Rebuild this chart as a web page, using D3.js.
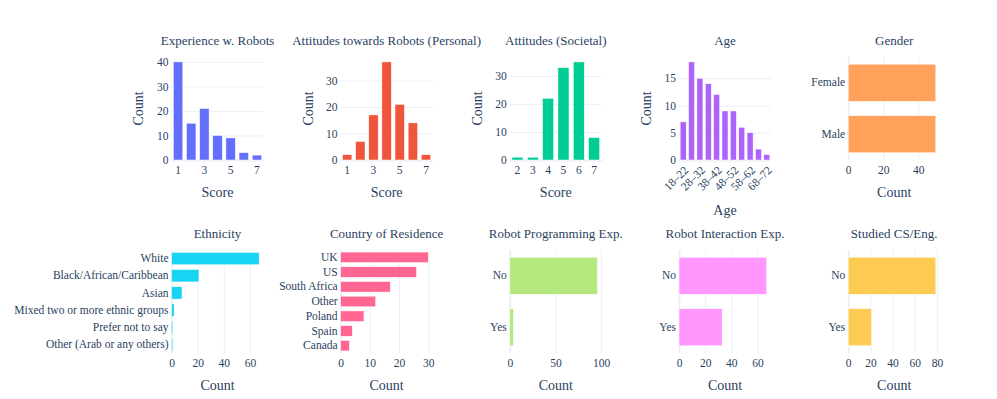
<!DOCTYPE html>
<html>
<head>
<meta charset="utf-8">
<script src="https://cdn.jsdelivr.net/npm/d3@7"></script>
<style>
  body { margin: 0; background: #fff; }
  text { font-family: 'Liberation Serif', 'Times New Roman', serif; fill: #2a3f5f; }
</style>
</head>
<body>
<svg id="chart" width="997" height="399"></svg>
<script>
// Survey data (100 respondents).
const scores = [1, 2, 3, 4, 5, 6, 7];
const experienceCounts = [40, 15, 21, 10, 9, 3, 2];
const personalCounts = [2, 7, 17, 37, 21, 14, 2];
const societalScores = [2, 3, 4, 5, 6, 7];
const societalCounts = [1, 1, 22, 33, 35, 8];
const ageGroups = ['18–22', '23–27', '28–32', '33–37', '38–42', '43–47', '48–52', '53–57', '58–62', '63–67', '68–72'];
const ageCounts = [7, 18, 15, 14, 12, 9, 9, 6, 5, 2, 1];
const genders = ['Female', 'Male'];
const genderCounts = [50, 50];
const ethnicities = ['White', 'Black/African/Caribbean', 'Asian', 'Mixed two or more ethnic groups', 'Prefer not to say', 'Other (Arab or any others)'];
const ethnicityCounts = [67, 21, 8, 2, 1, 1];
const countries = ['UK', 'US', 'South Africa', 'Other', 'Poland', 'Spain', 'Canada'];
const countryCounts = [30, 26, 17, 12, 8, 4, 3];
const noYes = ['No', 'Yes'];
const programmingCounts = [96, 4];
const interactionCounts = [67, 33];
const studiedCounts = [79, 21];

// Plotly default colour cycle.
const colors = ['#636efa', '#EF553B', '#00cc96', '#ab63fa', '#FFA15A', '#19d3f3', '#FF6692', '#B6E880', '#FF97FF', '#FECB52'];

const panels = [
  {title: 'Experience w. Robots', cats: scores, values: experienceCounts, step: 10, catTicks: [1, 3, 5, 7], xTitle: 'Score', yTitle: 'Count'},
  {title: 'Attitudes towards Robots (Personal)', cats: scores, values: personalCounts, step: 10, catTicks: [1, 3, 5, 7], xTitle: 'Score', yTitle: 'Count'},
  {title: 'Attitudes (Societal)', cats: societalScores, values: societalCounts, step: 10, catTicks: societalScores, xTitle: 'Score', yTitle: 'Count'},
  {title: 'Age', cats: ageGroups, values: ageCounts, step: 5, catTicks: ageGroups.filter((d, i) => i % 2 === 0), xTitle: 'Age', yTitle: 'Count', rotate: true},
  {title: 'Gender', cats: genders, values: genderCounts, step: 20, horizontal: true, xTitle: 'Count'},
  {title: 'Ethnicity', cats: ethnicities, values: ethnicityCounts, step: 20, horizontal: true, xTitle: 'Count'},
  {title: 'Country of Residence', cats: countries, values: countryCounts, step: 10, horizontal: true, xTitle: 'Count'},
  {title: 'Robot Programming Exp.', cats: noYes, values: programmingCounts, step: 50, horizontal: true, xTitle: 'Count'},
  {title: 'Robot Interaction Exp.', cats: noYes, values: interactionCounts, step: 20, horizontal: true, xTitle: 'Count'},
  {title: 'Studied CS/Eng.', cats: noYes, values: studiedCounts, step: 20, horizontal: true, xTitle: 'Count'},
];

const svg = d3.select('#chart');
const plotW = 92, plotH = 103;
const lefts = [171.5, 340.6, 509.8, 679, 848.2];
const tops = [57, 250];
const gridColor = '#ebf0f8';
const tickSize = '11.5px';

function styleAxis(sel) {
  sel.select('.domain').remove();
  sel.attr('font-family', null).attr('font-size', null);
  sel.selectAll('text').style('font-size', tickSize);
}

panels.forEach((p, i) => {
  const g = svg.append('g')
    .attr('transform', `translate(${lefts[i % 5]}, ${tops[Math.floor(i / 5)]})`);
  const maxV = d3.max(p.values) * 1.05;
  const ticks = d3.range(0, maxV, p.step);
  const band = d3.scaleBand().domain(p.cats)
    .range(p.horizontal ? [0, plotH] : [0, plotW])
    .paddingInner(0.28).paddingOuter(0.14);
  const lin = d3.scaleLinear().domain([0, maxV])
    .range(p.horizontal ? [0, plotW] : [plotH, 0]);

  if (p.horizontal) {
    // Value axis along the bottom, with vertical grid lines.
    const ax = g.append('g').attr('transform', `translate(0, ${plotH})`)
      .call(d3.axisBottom(lin).tickValues(ticks).tickSize(-plotH).tickPadding(6));
    styleAxis(ax);
    ax.selectAll('line').attr('stroke', gridColor).attr('stroke-width', (d) => d === 0 ? 2 : 1);

    g.selectAll('rect').data(p.values).join('rect')
      .attr('x', lin(0))
      .attr('y', (d, j) => band(p.cats[j]))
      .attr('width', (d) => lin(d) - lin(0))
      .attr('height', band.bandwidth())
      .attr('fill', colors[i])
      .attr('stroke', '#fff').attr('stroke-width', 0.5);

    const cy = g.append('g').call(d3.axisLeft(band).tickSize(0).tickPadding(3));
    styleAxis(cy);
  } else {
    // Value axis on the left, with horizontal grid lines.
    const ay = g.append('g')
      .call(d3.axisLeft(lin).tickValues(ticks).tickSize(-plotW).tickPadding(3));
    styleAxis(ay);
    ay.selectAll('line').attr('stroke', gridColor).attr('stroke-width', (d) => d === 0 ? 2 : 1);

    g.selectAll('rect').data(p.values).join('rect')
      .attr('x', (d, j) => band(p.cats[j]))
      .attr('y', (d) => lin(d))
      .attr('width', band.bandwidth())
      .attr('height', (d) => lin(0) - lin(d))
      .attr('fill', colors[i])
      .attr('stroke', '#fff').attr('stroke-width', 0.5);

    const cx = g.append('g').attr('transform', `translate(0, ${plotH})`)
      .call(d3.axisBottom(band).tickValues(p.catTicks).tickSize(0).tickPadding(6));
    styleAxis(cx);
    if (p.rotate) {
      // Slanted labels that end just under their tick.
      cx.selectAll('.tick text')
        .attr('y', 0).attr('dy', '0.35em')
        .attr('text-anchor', 'end')
        .attr('transform', 'translate(3, 8) rotate(-45)');
    }

    g.append('text')
      .attr('transform', `translate(-33, ${plotH / 2}) rotate(-90)`)
      .attr('text-anchor', 'middle').attr('dy', '0.35em')
      .style('font-size', '14px')
      .text(p.yTitle);
  }

  // Subplot title and x-axis title.
  g.append('text')
    .attr('x', plotW / 2).attr('y', -16.5).attr('dy', '0.35em')
    .attr('text-anchor', 'middle')
    .style('font-size', '13px')
    .text(p.title);
  g.append('text')
    .attr('x', plotW / 2).attr('y', plotH + (p.rotate ? 50 : 32)).attr('dy', '0.35em')
    .attr('text-anchor', 'middle')
    .style('font-size', '14px')
    .text(p.xTitle);
});
</script>
</body>
</html>
